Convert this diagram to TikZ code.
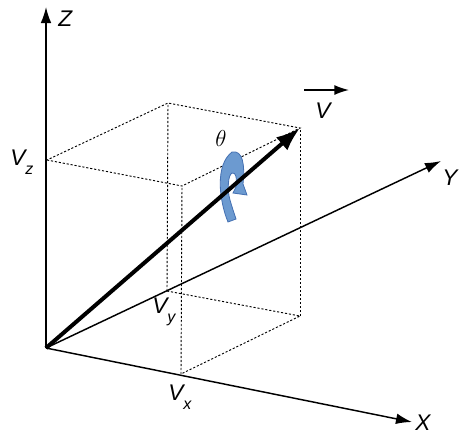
\documentclass[tikz,border=0pt]{standalone}
\usepackage{fontspec}
\setmainfont{Liberation Sans}
\usetikzlibrary{arrows.meta}
\definecolor{rotblue}{RGB}{108,154,208}
\definecolor{rotedge}{RGB}{68,112,178}
\newcommand{\vlabel}[1]{V\raisebox{-7pt}{\fontsize{12}{12}\selectfont #1}}

\begin{document}
\begin{tikzpicture}[x=0.75pt,y=-0.75pt,
	axis/.style={line width=1.1pt,-{Latex[length=12pt,width=8pt]}},
	proj/.style={line width=0.7pt,dash pattern=on 1.6pt off 1.4pt},
	lbl/.style={font=\fontsize{17}{17}\selectfont\itshape,inner sep=0pt}]
	\useasboundingbox (0,0) rectangle (464,440);
	\coordinate (O) at (46,348);
	\coordinate (xend) at (412,422);
	\coordinate (yend) at (441,161);
	\coordinate (zend) at (46,7);
	\coordinate (vx) at (181,374);
	\coordinate (vy) at (167,291);
	\coordinate (vz) at (47,160);
	\coordinate (vxy) at (300,316);
	\coordinate (vxz) at (182,186);
	\coordinate (vyz) at (168,103);
	\coordinate (v) at (300,128);
	\coordinate (arrS) at (304,90);
	\coordinate (arrE) at (349,90);
	% projection box
	\draw[proj] (vz) -- (vxz) -- (v) -- (vyz) -- cycle;
	\draw[proj] (vy) -- (vxy) -- (vx);
	\draw[proj] (vx) -- (vxz);
	\draw[proj] (vy) -- (vyz);
	\draw[proj] (vxy) -- (v);
	% axes
	\draw[axis] (O) -- (xend);
	\draw[axis] (O) -- (yend);
	\draw[axis] (O) -- (zend);
	\node[lbl,anchor=base west] (xlab) at (415,430) {X};
	\node[lbl,anchor=base west] (ylab) at (442,185) {Y};
	\node[lbl,anchor=base west] (zlab) at (58,26) {Z};
	\node[lbl,anchor=base west] (vxlab) at (168,400) {\vlabel{x}};
	\node[lbl,anchor=base west] (vylab) at (152,313) {\vlabel{y}};
	\node[lbl,anchor=base west] (vzlab) at (10,165) {\vlabel{z}};
	% rotation about the vector
	\filldraw[fill=rotblue,draw=rotedge,line width=0.6pt]
		(228,222) .. controls (219,200) and (215,165) .. (232,152)
		.. controls (243,150) and (245,165) .. (243,184)
		-- (247,195) -- (233,193) -- (236,187)
		.. controls (237,178) and (236,172) .. (232,173)
		.. controls (228,175) and (227,190) .. (230,200)
		.. controls (232,207) and (234,213) .. (236,219) -- cycle;
	\node[inner sep=0pt,font=\fontsize{19}{19}\selectfont] (theta) at (221,138) {$\theta$};
	% the vector
	\draw[line width=3pt,-{Latex[length=18pt,width=13pt]}] (O) -- (v);
	\draw[line width=1.1pt,-{Latex[length=11pt,width=7.5pt]}] (arrS) -- (arrE);
	\node[lbl,anchor=base west] (vlab) at (315,118) {V};
\end{tikzpicture}
\end{document}
